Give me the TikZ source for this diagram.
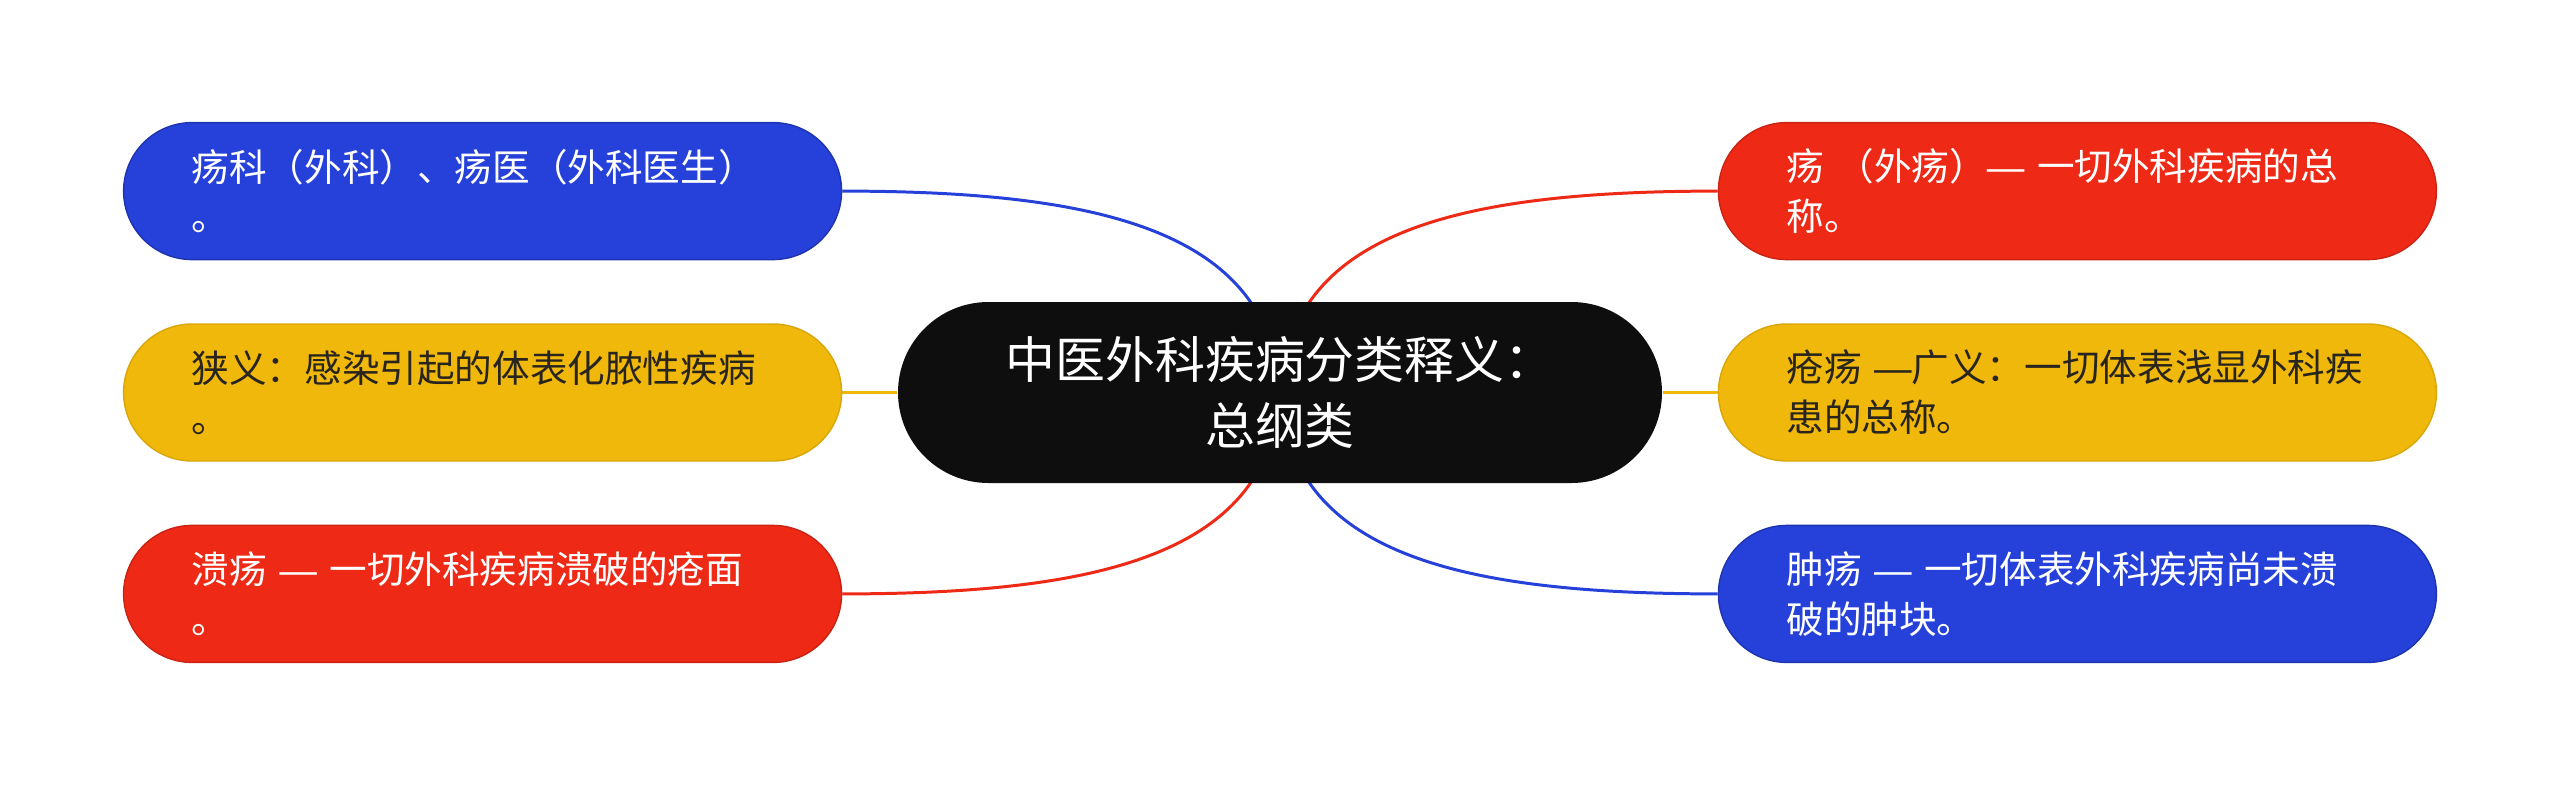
\documentclass[tikz,border=0pt]{standalone}
\usepackage{fontspec}
\newfontfamily\cjk{Noto Sans CJK SC}
\newfontfamily\dashfont{Liberation Sans}
\newcommand\longdash{{\dashfont —}}
\usetikzlibrary{positioning,backgrounds}

\definecolor{mapblue}{RGB}{37,65,217}
\definecolor{mapred}{RGB}{238,41,22}
\definecolor{mapyellow}{RGB}{240,184,10}
\definecolor{mapink}{RGB}{14,14,14}
\definecolor{maptext}{RGB}{40,36,30}

\tikzset{
  leaf/.style={rectangle, rounded corners=0.685cm, minimum height=1.37cm,
    text width=5.82cm, inner xsep=0.68cm, inner ysep=0pt, align=left,
    font=\cjk\fontsize{10.7pt}{14.2pt}\selectfont},
  bluebox/.style={leaf, fill=mapblue, draw=mapblue!80!black, text=white},
  redbox/.style={leaf, fill=mapred, draw=mapred!85!black, text=white},
  yellowbox/.style={leaf, fill=mapyellow, draw=mapyellow!90!black, text=maptext},
  topic/.style={rectangle, rounded corners=0.905cm, minimum width=7.64cm,
    minimum height=1.81cm, fill=mapink, text=white, align=center,
    font=\cjk\fontsize{14.2pt}{18.6pt}\selectfont},
  link/.style={line width=0.85pt}
}

\begin{document}
\begin{tikzpicture}[node distance=0.63cm and 0.55cm]

    \useasboundingbox (0,0) rectangle (25.6,-7.85);

    \node[topic]       (root)      at (12.8,-3.925)     {中医外科疾病分类释义：\\总纲类};

    \node[yellowbox]   (narrow)    [left=of root]       {狭义：感染引起的体表化脓性疾病\\。};
    \node[bluebox]     (surgery)   [above=of narrow]    {疡科（外科）、疡医（外科医生）\\。};
    \node[redbox]      (ulcer)     [below=of narrow]    {溃疡~\longdash{}~一切外科疾病溃破的疮面\\。};

    \node[yellowbox]   (broad)     [right=of root]      {疮疡~\longdash{}广义：一切体表浅显外科疾\\患的总称。};
    \node[redbox]      (sore)      [above=of broad]     {疡~（外疡）\longdash{}~一切外科疾病的总\\称。};
    \node[bluebox]     (swelling)  [below=of broad]     {肿疡~\longdash{}~一切体表外科疾病尚未溃\\破的肿块。};

    \begin{scope}[on background layer]
        \draw[link, mapblue]    (surgery.east)  .. controls +(2.57,0)  and +(-0.1,1.62)  .. (root.center);
        \draw[link, mapred]     (ulcer.east)    .. controls +(2.57,0)  and +(-0.1,-1.62) .. (root.center);
        \draw[link, mapred]     (sore.west)     .. controls +(-2.57,0) and +(0.1,1.62)   .. (root.center);
        \draw[link, mapblue]    (swelling.west) .. controls +(-2.57,0) and +(0.1,-1.62)  .. (root.center);
        \draw[link, mapyellow]  (narrow) -- (root);
        \draw[link, mapyellow]  (broad)  -- (root);
    \end{scope}
\end{tikzpicture}
\end{document}
